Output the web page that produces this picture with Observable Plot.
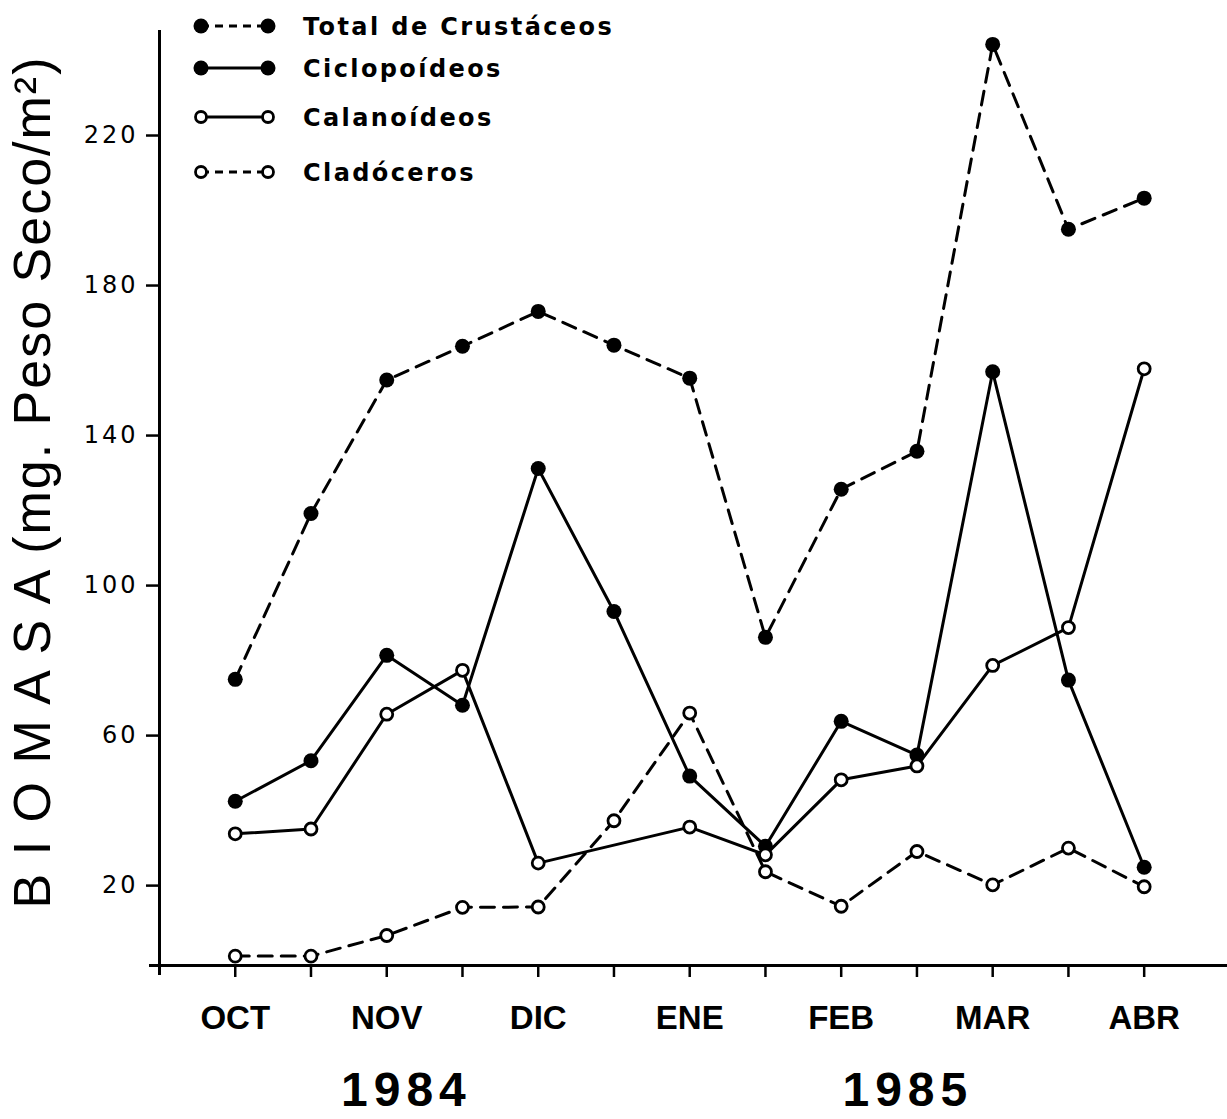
<!DOCTYPE html>
<html><head><meta charset="utf-8">
<script src="https://cdn.jsdelivr.net/npm/d3@7"></script>
<script src="https://cdn.jsdelivr.net/npm/@observablehq/plot@0.6"></script>
<style>
body{margin:0;background:#fff;}
#chart svg{display:block;font-family:"Liberation Sans",Arial,sans-serif;}
</style>
</head><body><div id="chart"></div>
<script>
// ---- data ----
const months = ["OCT","","NOV","","DIC","","ENE","","FEB","","MAR","","ABR"];
const samples = [0,1,2,3,4,5,6,7,8,9,10,11,12];
const totalCrustaceos = [75.0,119.2,154.8,163.8,173.1,164.1,155.3,86.2,125.7,135.8,244.3,195.0,203.3];
const ciclopoideos    = [42.5,53.3,81.4,68.1,131.2,93.1,49.2,30.5,63.8,54.8,157.0,74.8,24.9];
const calanoideos     = [33.8,35.1,65.7,77.4,26.0,null,35.6,28.2,48.2,51.9,78.7,88.8,157.8];
const cladoceros      = [1.2,1.2,6.7,14.2,14.3,37.3,66.0,23.7,14.5,29.1,20.2,30.0,19.7];
const yTicks = [20,60,100,140,180,220];
const years = ["1984","1985"];
const yearPos = [2.26,8.88];
const seriesNames = ["Total de Crustáceos","Ciclopoídeos","Calanoídeos","Cladóceros"];
const yLabel = "B I O M A S A (mg. Peso Seco/m²)";

const series = [
  {name: seriesNames[0], values: totalCrustaceos, filled: true,  dashed: true},
  {name: seriesNames[1], values: ciclopoideos,    filled: true,  dashed: false},
  {name: seriesNames[2], values: calanoideos,     filled: false, dashed: false},
  {name: seriesNames[3], values: cladoceros,      filled: false, dashed: true}
];
const rowsOf = s => samples.map(i => ({i, v: s.values[i]})).filter(d => d.v != null);

const xDomain = [-1, 13.1];
const yDomain = [-1.3, 248];

const marks = [];
series.forEach(s => {
  marks.push(Plot.line(rowsOf(s), {x: "i", y: "v", stroke: "black", strokeWidth: 3,
    strokeDasharray: s.dashed ? "14,9" : null}));
});
series.forEach(s => {
  marks.push(Plot.dot(rowsOf(s), {x: "i", y: "v", r: s.filled ? 7.5 : 6,
    fill: s.filled ? "black" : "white", stroke: "black", strokeWidth: s.filled ? 0 : 2.8}));
});

const plot = Plot.plot({
  width: 1227, height: 1119,
  marginTop: 30, marginBottom: 154, marginLeft: 159, marginRight: 0,
  x: {domain: xDomain},
  y: {domain: yDomain},
  marks: [
    Plot.ruleX([xDomain[0]], {strokeWidth: 3, insetBottom: -10}),
    Plot.ruleY([yDomain[0]], {strokeWidth: 3, insetLeft: -10}),
    Plot.axisY(yTicks, {anchor: "left", tickSize: 13, tickPadding: 8, fontSize: 24, fontFamily: "DejaVu Sans",
      strokeWidth: 2.5, label: null}),
    Plot.axisX(samples, {anchor: "bottom", tickSize: 12, tickPadding: 28, fontSize: 33, fontWeight: "bold",
      strokeWidth: 2.5, tickFormat: i => months[i], label: null}),
    ...marks,
    Plot.text([yLabel], {text: d => d, frameAnchor: "left", textAnchor: "middle", lineAnchor: "middle",
      rotate: -90, dx: -126, dy: -16, fontSize: 52}),
    Plot.text(years, {x: (d, k) => yearPos[k], text: d => d, frameAnchor: "bottom", dy: 140,
      fontSize: 48, fontWeight: "bold"})
  ]
});

const svg = d3.select(plot);
svg.selectAll("text").filter(function(){ return this.textContent === yLabel; }).attr("letter-spacing", "2px");
svg.selectAll("text").filter(function(){ return years.includes(this.textContent); }).attr("letter-spacing", "6px");
svg.selectAll("text").filter(function(){ return yTicks.map(String).includes(this.textContent); }).attr("letter-spacing", "3px");

// ---- legend (drawn inside the plot, top-left) ----
const legend = {x1: 201, x2: 268, tx: 303, rows: [26, 68, 117, 172]};
const lg = svg.append("g");
series.forEach((s, k) => {
  const y = legend.rows[k];
  lg.append("line").attr("x1", legend.x1).attr("x2", legend.x2).attr("y1", y).attr("y2", y)
    .attr("stroke", "black").attr("stroke-width", 3).attr("stroke-dasharray", s.dashed ? "8,6" : null);
  [legend.x1, legend.x2].forEach(cx => {
    lg.append("circle").attr("cx", cx).attr("cy", y).attr("r", s.filled ? 7.5 : 5.5)
      .attr("fill", s.filled ? "black" : "white").attr("stroke", "black").attr("stroke-width", s.filled ? 0 : 2.8);
  });
  lg.append("text").attr("x", legend.tx).attr("y", y).attr("dy", "0.36em")
    .attr("text-anchor", "start").attr("font-family", "DejaVu Sans").attr("font-size", 24)
    .attr("font-weight", "bold").attr("letter-spacing", "2.4px")
    .attr("fill", "black").text(s.name);
});

document.getElementById("chart").appendChild(plot);
</script>
</body></html>
